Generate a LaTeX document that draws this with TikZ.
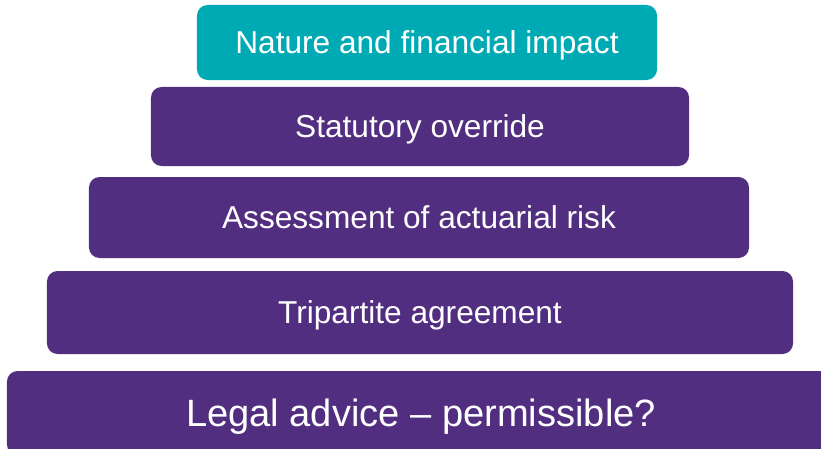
\documentclass[tikz,border=0pt]{standalone}
\usepackage{fontspec}
\setmainfont{Liberation Sans}
\usepackage{tikz}
\usetikzlibrary{positioning}
\definecolor{tierpurple}{RGB}{82,46,128}
\definecolor{tierteal}{RGB}{0,170,180}
\tikzset{
  tier/.style={rectangle, fill=tierpurple, text=white, rounded corners=9pt,
    inner sep=0pt, text height=19.3pt, text depth=0pt,
    font=\fontsize{27}{32}\selectfont},
  toptier/.style={tier, fill=tierteal},
  basetier/.style={tier, text height=23.3pt, font=\fontsize{32.5}{38}\selectfont}
}

\begin{document}
\begin{tikzpicture}[x=0.03cm, y=-0.03cm]
  % Canvas
  \useasboundingbox (0,0) rectangle (821,448);
  \clip (0,0) rectangle (821,448);

  % Tiers, top to bottom
  \node[toptier, minimum width=13.8cm, minimum height=2.25cm] (nature) at (427,42.5) {Nature and financial impact};
  \node[tier, minimum width=16.14cm, minimum height=2.37cm] (override) at (420,126.5) {Statutory override};
  \node[tier, minimum width=19.8cm, minimum height=2.43cm] (risk) at (419,217.5) {Assessment of actuarial risk};
  \node[tier, minimum width=22.38cm, minimum height=2.49cm] (tripartite) at (420,312.5) {Tripartite agreement};
  \node[basetier, minimum width=24.84cm, minimum height=2.52cm] (legal) at (421,413) {Legal advice -- permissible?};
\end{tikzpicture}
\end{document}
